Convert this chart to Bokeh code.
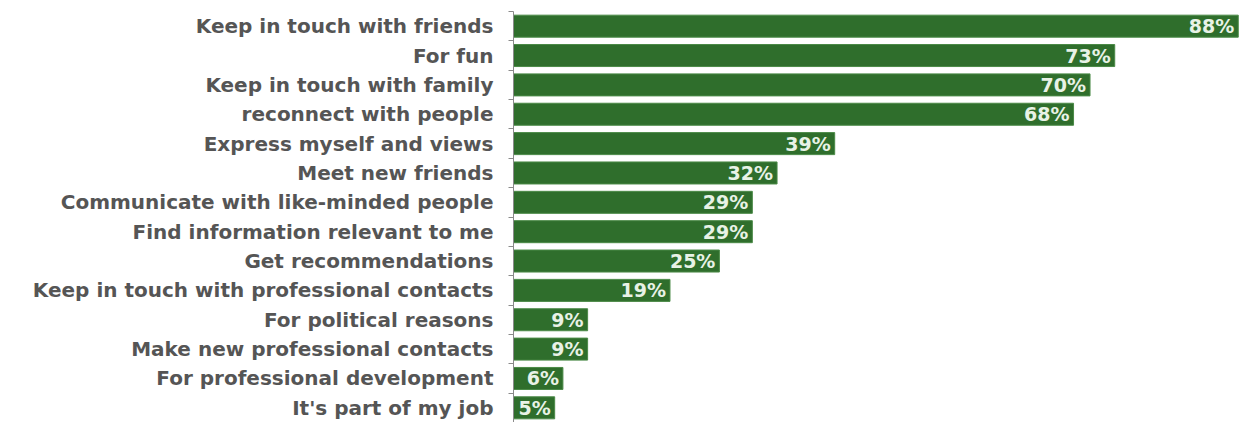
from bokeh.plotting import figure
from bokeh.models import ColumnDataSource, Range1d, FixedTicker
from bokeh.core.properties import value
from bokeh.embed import file_html
from bokeh.resources import INLINE

categories = [
    "Keep in touch with friends",
    "For fun",
    "Keep in touch with family",
    "reconnect with people",
    "Express myself and views",
    "Meet new friends",
    "Communicate with like-minded people",
    "Find information relevant to me",
    "Get recommendations",
    "Keep in touch with professional contacts",
    "For political reasons",
    "Make new professional contacts",
    "For professional development",
    "It's part of my job",
]
values = [88, 73, 70, 68, 39, 32, 29, 29, 25, 19, 9, 9, 6, 5]

n = len(categories)
pos = [i + 0.5 for i in range(n)]
labels = [f"{v}%" for v in values]
src = ColumnDataSource(dict(y=pos, v=values, lab=labels, cat=categories))

p = figure(width=1246, height=422, output_backend="svg", toolbar_location=None,
           x_range=Range1d(0, 89), y_range=Range1d(n, 0),
           min_border_left=513, min_border_right=0, min_border_top=11, min_border_bottom=0)
p.outline_line_color = None
p.grid.grid_line_color = None
p.xaxis.visible = False
p.background_fill_color = "white"
p.border_fill_color = "white"

p.hbar(y="y", right="v", left=0, height=0.75, source=src,
       fill_color="#2F6E2C", line_color="#4B8A47", line_width=1)

p.text(x="v", y="y", text="lab", source=src, x_offset=-4,
       text_align="right", text_baseline="middle", text_color="#E8F2E6",
       text_font=value("DejaVu Sans"), text_font_style="bold", text_font_size="19px")

ya = p.yaxis[0]
ya.ticker = FixedTicker(ticks=pos, minor_ticks=list(range(n + 1)))
ya.major_label_overrides = {pp: c for pp, c in zip(pos, categories)}
ya.major_tick_line_color = None
ya.major_tick_out = 0
ya.major_tick_in = 0
ya.minor_tick_out = 5
ya.minor_tick_in = 0
ya.minor_tick_line_color = "#8A8A8A"
ya.axis_line_color = "#8A8A8A"
ya.major_label_standoff = 15
ya.major_label_text_font = "DejaVu Sans"
ya.major_label_text_font_style = "bold"
ya.major_label_text_font_size = "20px"
ya.major_label_text_color = "#555555"

open("out.html", "w").write(file_html(p, INLINE))
